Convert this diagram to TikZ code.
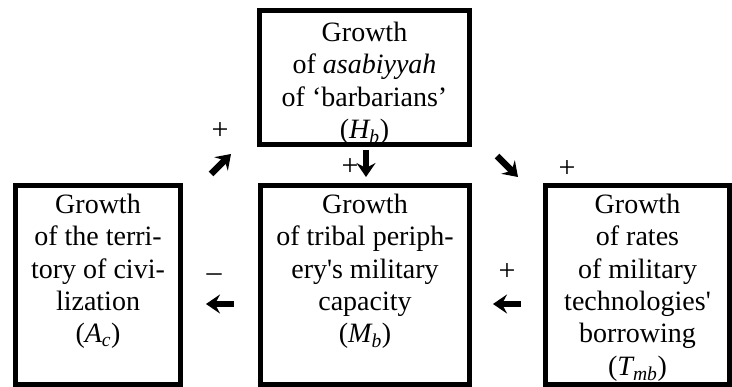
\documentclass[tikz,border=0pt]{standalone}
\usepackage{fontspec}
\setmainfont{Liberation Serif}[Ligatures=TeXOff]
\usetikzlibrary{arrows.meta}
\begin{document}
\begin{tikzpicture}[x=1pt,y=-1pt,
  box/.style={draw=black,line width=5pt,rectangle,inner sep=0pt,outer sep=0pt},
  txt/.style={align=center,inner sep=0pt,anchor=north,font=\fontsize{28}{32.3}\selectfont},
  lbl/.style={inner sep=0pt,font=\fontsize{30}{32}\selectfont},
  blk/.style={line width=6.5pt,-{Stealth[length=14pt,width=19pt,inset=5pt]}}]
\useasboundingbox (0,0) rectangle (732,387);
% boxes
\node[box,minimum width=210pt,minimum height=134pt] (hb) at (364.5,77.5) {};
\node[box,minimum width=165pt,minimum height=199pt] (ac) at (98,285) {};
\node[box,minimum width=209pt,minimum height=199pt] (mb) at (365,285) {};
\node[box,minimum width=184pt,minimum height=199pt] (tmb) at (637.5,285) {};
% texts
\node[txt] (thb) at (364.5,22) {Growth\\of \textit{asabiyyah}\\of ‘barbarians’\\({\itshape H}\textsubscript{\itshape b})};
\node[txt] (tac) at (98,194) {Growth\\of the terri-\\tory of civi-\\lization\\({\itshape A}\textsubscript{\itshape c})};
\node[txt] (tmbt) at (365,194) {Growth\\of tribal periph-\\ery's military\\capacity\\({\itshape M}\textsubscript{\itshape b})};
\node[txt] (ttmb) at (637.5,194) {Growth\\of rates\\of military\\technologies'\\borrowing\\({\itshape T}\textsubscript{\itshape mb})};
% arrows and signs
\node[lbl] (pl1) at (220,131) {+};
\coordinate (ne1) at (211,174);
\coordinate (ne2) at (231,154);
\draw[blk] (ne1) -- (ne2);
\node[lbl] (pl2) at (350,167) {+};
\coordinate (d1) at (366,150);
\coordinate (d2) at (366,177);
\draw[blk] (d1) -- (d2);
\coordinate (se1) at (497,156);
\coordinate (se2) at (518,177);
\draw[blk] (se1) -- (se2);
\node[lbl] (pl3) at (567,169) {+};
\node[lbl] (mi) at (214,278) {–};
\coordinate (l1) at (234,304);
\coordinate (l2) at (206,304);
\draw[blk] (l1) -- (l2);
\node[lbl] (pl4) at (507,272) {+};
\coordinate (r1) at (521,304);
\coordinate (r2) at (493,304);
\draw[blk] (r1) -- (r2);
\end{tikzpicture}
\end{document}
